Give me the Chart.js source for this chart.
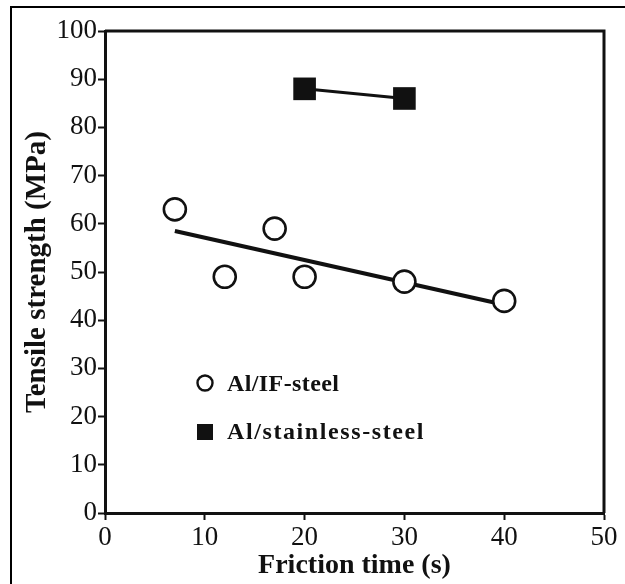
<!DOCTYPE html>
<html>
<head>
<meta charset="utf-8">
<script src="https://cdn.jsdelivr.net/npm/chart.js@4.4.1/dist/chart.umd.min.js"></script>
<style>
  html, body { margin: 0; padding: 0; background: #fff; }
  #wrap { position: relative; width: 625px; height: 584px; }
</style>
</head>
<body>
<div id="wrap"><canvas id="c" width="625" height="584"></canvas></div>
<script>
// ---- data ----
const ifSteelTime = [7, 12, 17, 20, 30, 40];
const ifSteelStrength = [63, 49, 59, 49, 48, 44];
const trendTime = [7, 40];
const trendStrength = [58.5, 43.2];
const stainlessTime = [20, 30];
const stainlessStrength = [88, 86];
const seriesNames = ['Al/IF-steel', 'Al/stainless-steel'];
const xTicks = [0, 10, 20, 30, 40, 50];
const yTicks = [0, 10, 20, 30, 40, 50, 60, 70, 80, 90, 100];
const xTitle = 'Friction time (s)';
const yTitle = 'Tensile strength (MPa)';

const pts = (xs, ys) => xs.map((x, i) => ({ x: x, y: ys[i] }));
const SERIF = '"Liberation Serif", "DejaVu Serif", serif';

const framePlugin = {
  id: 'frame',
  beforeDraw(chart) {
    const ctx = chart.ctx;
    ctx.save();
    ctx.fillStyle = '#fff';
    ctx.fillRect(0, 0, chart.width, chart.height);
    ctx.strokeStyle = '#000';
    ctx.lineWidth = 2;
    ctx.strokeRect(11, 7, 800, 800);
    ctx.restore();
  },
  afterDatasetsDraw(chart) {
    const a = chart.chartArea, ctx = chart.ctx;
    ctx.save();
    ctx.strokeStyle = '#111';
    ctx.lineWidth = 3;
    ctx.beginPath();
    ctx.moveTo(a.left, a.top);
    ctx.lineTo(a.right, a.top);
    ctx.lineTo(a.right, a.bottom);
    ctx.stroke();
    ctx.restore();
  }
};

const legendPlugin = {
  id: 'innerLegend',
  afterDraw(chart) {
    const a = chart.chartArea, ctx = chart.ctx;
    ctx.save();
    ctx.font = 'bold 24px ' + SERIF;
    ctx.fillStyle = '#111';
    ctx.textBaseline = 'alphabetic';
    const cx = a.left + 100;
    // circle entry
    const cy1 = a.top + 352;
    ctx.beginPath();
    ctx.arc(cx, cy1, 7.5, 0, Math.PI * 2);
    ctx.lineWidth = 2.4;
    ctx.strokeStyle = '#111';
    ctx.stroke();
    ctx.letterSpacing = '0.4px';
    ctx.fillText(seriesNames[0], a.left + 122, cy1 + 8);
    // square entry
    const cy2 = a.top + 401;
    ctx.fillRect(cx - 8, cy2 - 8, 16, 16);
    ctx.letterSpacing = '1.6px';
    ctx.fillText(seriesNames[1], a.left + 122, cy2 + 7);
    ctx.restore();
  }
};

new Chart(document.getElementById('c'), {
  type: 'scatter',
  data: {
    datasets: [
      {
        label: seriesNames[0],
        data: pts(ifSteelTime, ifSteelStrength),
        showLine: false,
        pointStyle: 'circle',
        pointRadius: 11,
        pointBorderWidth: 2.6,
        pointBorderColor: '#111',
        pointBackgroundColor: '#fff',
        order: 1
      },
      {
        label: 'trend',
        data: pts(trendTime, trendStrength),
        showLine: true,
        borderColor: '#111',
        borderWidth: 4,
        pointRadius: 0,
        order: 3
      },
      {
        label: seriesNames[1],
        data: pts(stainlessTime, stainlessStrength),
        showLine: true,
        borderColor: '#111',
        borderWidth: 3,
        pointStyle: 'rect',
        pointRadius: 16,
        pointBorderWidth: 0,
        pointBackgroundColor: '#111',
        order: 2
      }
    ]
  },
  options: {
    responsive: false,
    animation: false,
    events: [],
    layout: { padding: { top: 31, right: 21, left: 0, bottom: 0 } },
    plugins: { legend: { display: false }, tooltip: { enabled: false } },
    scales: {
      x: {
        type: 'linear',
        min: 0, max: 50,
        afterBuildTicks(s) { s.ticks = xTicks.map(v => ({ value: v })); },
        afterFit(s) { s.height = 71; },
        grid: { drawOnChartArea: false, drawTicks: true, tickLength: 7, tickWidth: 2, tickColor: '#111' },
        border: { display: true, color: '#111', width: 3 },
        ticks: { color: '#111', padding: 2, font: { family: SERIF, size: 27 }, maxRotation: 0 },
        title: { display: true, text: xTitle, color: '#111', font: { family: SERIF, size: 28, weight: 'bold' }, padding: { top: 0, bottom: 1 } }
      },
      y: {
        type: 'linear',
        min: 0, max: 100,
        afterBuildTicks(s) { s.ticks = yTicks.map(v => ({ value: v })); },
        afterFit(s) { s.width = 105; },
        grid: { drawOnChartArea: false, drawTicks: true, tickLength: 7, tickWidth: 2, tickColor: '#111' },
        border: { display: true, color: '#111', width: 3 },
        ticks: { color: '#111', padding: 1, font: { family: SERIF, size: 27 } },
        title: { display: true, text: yTitle, color: '#111', font: { family: SERIF, size: 29, weight: 'bold' }, padding: { top: 20, bottom: 0 } }
      }
    }
  },
  plugins: [framePlugin, legendPlugin]
});
</script>
</body>
</html>
